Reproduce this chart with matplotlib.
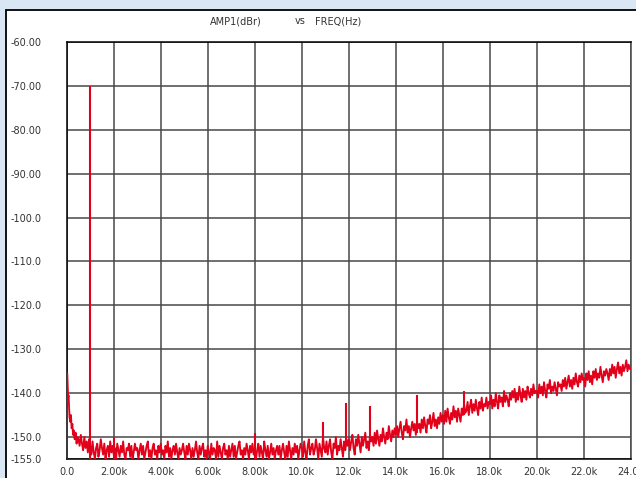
import numpy as np
import matplotlib
matplotlib.use("Agg")
import matplotlib.pyplot as plt
from matplotlib.patches import Rectangle

# low frequency part of the trace (Hz, dBr)
lf_freq = [0, 20, 40, 60, 80, 100, 120, 150, 180, 210, 240, 270, 300, 340, 380, 420, 460]
lf_level = [-156, -135.5, -138.5, -141, -140.5, -143, -145.5, -146.5, -145, -148,
            -147, -149.5, -148.5, -150.5, -149, -151.5, -150]

# rest of the trace, 500 Hz .. 24 kHz in 50 Hz steps
main_start = 500
main_step = 50
main_level = [
    # 0.5k
    -150.5, -152, -149.5, -151.5, -153, -150, -152.5, -151, -153.5, -150.5,
    # 1k
    -152, -154, -151, -153.5, -155, -152.5, -151.5, -154.5, -153, -150.5,
    -152.5, -154, -151.5, -155, -153, -152, -154.5, -151, -153.5, -152,
    # 2k
    -154, -152.5, -155, -151.5, -153, -154.5, -152, -153.5, -151, -154,
    -155, -152.5, -153, -151.5, -154.5, -152, -155, -153.5, -151.5, -153,
    # 3k
    -152.5, -155, -153, -151.5, -154, -152, -155, -153.5, -152, -151,
    -154.5, -153, -155, -152.5, -151.5, -154, -153, -155, -152, -153.5,
    # 4k
    -151.5, -154, -153, -155, -152, -153.5, -151, -154.5, -152.5, -155,
    -153, -152, -154, -151.5, -153.5, -155, -152.5, -154, -153, -151.5,
    # 5k
    -153.5, -155, -152, -154, -151.5, -153, -155, -152.5, -154.5, -153,
    -151, -153.5, -155, -152, -154, -152.5, -151.5, -154.5, -153, -155,
    # 6k
    -152, -153.5, -155, -151.5, -154, -152.5, -153, -155, -151, -154.5,
    -152, -153.5, -155, -152.5, -151.5, -154, -153, -155, -152, -154.5,
    # 7k
    -153, -151.5, -154.5, -152, -155, -153.5, -152, -151, -154, -153,
    -155, -152.5, -154, -151.5, -153, -155, -152, -153.5, -151.5, -154,
    # 8k
    -152.5, -155, -153, -151.5, -154.5, -152, -153.5, -155, -151, -153,
    -154.5, -152, -155, -153.5, -151.5, -154, -152.5, -155, -153, -152,
    # 9k
    -154, -152, -155, -153, -151.5, -153.5, -155, -152, -154.5, -151,
    -153, -155, -152.5, -154, -151.5, -153.5, -152, -155, -153, -151.5,
    # 10k
    -152.5, -154.5, -151, -153.5, -155, -152, -150.5, -154, -152.5, -151.5,
    -154, -153, -150.5, -152.5, -155, -151.5, -153, -154.5, -150, -152.5,
    # 11k
    -153.5, -151, -154, -152, -150.5, -153.5, -155, -151.5, -152.5, -150,
    -154, -152, -153, -150.5, -152.5, -154.5, -151, -153, -150.5, -152,
    # 12k
    -150.5, -153, -151, -149.5, -152.5, -154, -150.5, -152, -149.5, -151.5,
    -153.5, -150, -152, -150.5, -149, -152.5, -151, -153, -149.5, -151,
    # 13k
    -150, -152, -149, -151.5, -148.5, -150.5, -152, -149.5, -151, -148,
    -150, -151.5, -149, -150.5, -147.5, -149.5, -151, -148.5, -150, -148,
    # 14k
    -149.5, -147.5, -150, -148, -146.5, -149, -150.5, -147.5, -148.5, -146,
    -149, -147.5, -150, -148, -146.5, -148.5, -147, -149.5, -146.5, -148,
    # 15k
    -147, -149, -146, -148, -145.5, -147.5, -149, -146, -147, -145,
    -148, -146.5, -144.5, -147.5, -146, -148, -145.5, -147, -144.5, -146.5,
    # 16k
    -145, -147, -144, -146.5, -143.5, -145.5, -147, -144.5, -146, -143,
    -145.5, -144, -146.5, -143.5, -145, -146.5, -143.5, -145, -142.5, -144.5,
    # 17k
    -144, -142, -145, -143, -141.5, -144.5, -142.5, -144, -141.5, -143.5,
    -145, -142, -143.5, -141, -144, -142.5, -143, -141, -143.5, -142,
    # 18k
    -142.5, -140.5, -143.5, -141.5, -143, -140, -142, -143.5, -140.5, -142,
    -141, -143, -139.5, -142, -140.5, -141.5, -143, -140, -141.5, -139.5,
    # 19k
    -141, -139, -142, -140, -141.5, -138.5, -140.5, -142, -139, -141,
    -139.5, -141.5, -138.5, -140, -141, -139, -140.5, -138, -140, -139.5,
    # 20k
    -139.5, -141, -138, -140, -138.5, -140.5, -137.5, -139.5, -141, -138,
    -139, -137, -140, -138.5, -139.5, -137.5, -139, -140.5, -137.5, -138.5,
    # 21k
    -138, -139.5, -137, -138.5, -136.5, -139, -137.5, -136, -138.5, -137,
    -139, -136.5, -138, -135.5, -137.5, -138.5, -136, -137.5, -135.5, -137,
    # 22k
    -136.5, -138.5, -135.5, -137, -135, -137.5, -136, -138, -135, -136.5,
    -134.5, -137, -135.5, -136.5, -134, -136, -137.5, -135, -136, -134.5,
    # 23k
    -135.5, -137, -134.5, -136, -133.5, -135.5, -134, -136.5, -134.5, -133,
    -135.5, -134, -136, -133.5, -135, -134, -132.5, -135, -133.5, -134.5,
    # 24k
    -134.5,
]

# discrete tones
spike_freq = [1000, 2000, 8000, 10900, 11900, 12900, 14900, 16900]
spike_top = [-70, -150.2, -149, -146.5, -142.3, -143, -140.4, -139.6]
spike_base = [-155, -155, -155, -152, -152, -151, -149, -145]

x_ticks = list(range(0, 24001, 2000))
x_labels = ["0.0", "2.00k", "4.00k", "6.00k", "8.00k", "10.0k", "12.0k",
            "14.0k", "16.0k", "18.0k", "20.0k", "22.0k", "24.0k"]
y_ticks = [-60, -70, -80, -90, -100, -110, -120, -130, -140, -150, -155]
y_labels = ["-60.00", "-70.00", "-80.00", "-90.00", "-100.0", "-110.0",
            "-120.0", "-130.0", "-140.0", "-150.0", "-155.0"]

freq = np.concatenate([lf_freq, main_start + main_step * np.arange(len(main_level))])
level = np.concatenate([lf_level, main_level])

W, H = 636, 478
fig = plt.figure(figsize=(W / 100, H / 100), dpi=100, facecolor="#d9e7f5")
panel = Rectangle((6 / W, -0.05), 1.2, 1.05 - 10 / H, transform=fig.transFigure,
                  facecolor="white", edgecolor="black", lw=1.3, zorder=-5)
fig.patches.append(panel)

ax = fig.add_axes([66.7 / W, 1 - 459 / H, (631 - 66.7) / W, (459 - 42) / H])
ax.set_zorder(2)
ax.set_facecolor("white")

red = "#e3001b"
ax.plot(freq, level, color=red, lw=1.35, zorder=3)
ax.vlines(spike_freq, spike_base, spike_top, color=red, lw=1.5, zorder=3)

ax.set_xlim(0, 24000)
ax.set_ylim(-155, -60)
ax.set_xticks(x_ticks)
ax.set_xticklabels(x_labels)
ax.set_yticks(y_ticks)
ax.set_yticklabels(y_labels, ha="left")
ax.tick_params(axis="both", length=0, labelsize=7, labelcolor="#333333")
ax.tick_params(axis="y", pad=40.5)
ax.tick_params(axis="x", pad=6)
ax.grid(True, color="#484848", lw=1.1, zorder=1)
for s in ["left", "bottom", "top"]:
    ax.spines[s].set_color("black")
    ax.spines[s].set_linewidth(1.1)
ax.spines["right"].set_color("#484848")
ax.spines["right"].set_linewidth(1.1)

fig.text(236 / W, 1 - 21 / H, "AMP1(dBr)", fontsize=7, color="#333333", ha="center", va="center")
fig.text(300 / W, 1 - 21 / H, "vs", fontsize=7, color="#333333", ha="center", va="center")
fig.text(338 / W, 1 - 21 / H, "FREQ(Hz)", fontsize=7, color="#333333", ha="center", va="center")

fig.savefig("out.png", dpi=100, facecolor=fig.get_facecolor())
